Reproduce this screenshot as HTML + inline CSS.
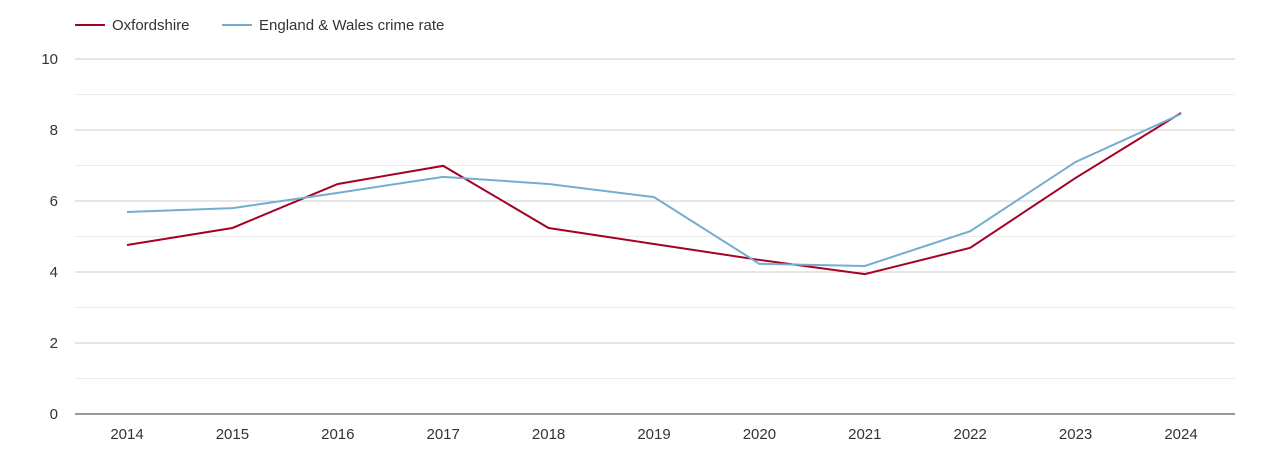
<!DOCTYPE html>
<html><head><meta charset="utf-8"><style>
body{margin:0;background:#fff;font-family:"Liberation Sans",Arial,sans-serif}
svg text{font-family:"Liberation Sans",Arial,sans-serif;fill:#333}
</style></head><body>
<svg id="chart" width="1270" height="450" xmlns="http://www.w3.org/2000/svg">
<g>
<g><line x1="75" y1="25" x2="105" y2="25" stroke="#a50026" stroke-width="2"/><text x="112" y="30" font-size="15">Oxfordshire</text></g>
<g><line x1="222" y1="25" x2="252" y2="25" stroke="#74add1" stroke-width="2"/><text x="259" y="30" font-size="15">England &amp; Wales crime rate</text></g>
</g>
<g id="grid"></g>
<g id="yaxis"></g>
<g id="xaxis"></g>
<g id="series"></g>
</svg>
<script>
const years=[2014,2015,2016,2017,2018,2019,2020,2021,2022,2023,2024];
const oxfordshire=[4.76,5.24,6.48,6.99,5.24,4.79,4.34,3.94,4.68,6.65,8.48];
const englandWales=[5.69,5.8,6.23,6.68,6.48,6.11,4.23,4.17,5.15,7.1,8.45];
const yTicks=[0,2,4,6,8,10];
const yMinor=[1,3,5,7,9];
const NS="http://www.w3.org/2000/svg";
const x=i=>127+i*(1181-127)/(years.length-1);
const y=v=>414-v*35.5;
function mk(tag,attrs,parent,txt){const e=document.createElementNS(NS,tag);for(const k in attrs)e.setAttribute(k,attrs[k]);if(txt!==undefined)e.textContent=txt;parent.appendChild(e);return e;}
const grid=document.getElementById('grid'),ya=document.getElementById('yaxis'),xa=document.getElementById('xaxis'),ser=document.getElementById('series');
yMinor.forEach(v=>{const l=mk('line',{x1:75,x2:1235,y1:y(v),y2:y(v),stroke:'#ebebeb','stroke-width':1},grid);

});
yTicks.forEach(v=>{const l=mk('line',{x1:75,x2:1235,y1:y(v),y2:y(v),stroke:v===0?'#333':'#ccc','stroke-width':1},grid);


const t=mk('text',{x:58,y:y(v)+5,'font-size':15,'text-anchor':'end'},ya,String(v));

});
years.forEach((yr,i)=>{const t=mk('text',{x:x(i),y:439,'font-size':15,'text-anchor':'middle'},xa,String(yr));

});
function line(arr,color,name){const p=mk('polyline',{points:arr.map((v,i)=>x(i)+','+y(v)).join(' '),fill:'none',stroke:color,'stroke-width':2},ser);

}
line(oxfordshire,'#a50026','oxfordshire-line');
line(englandWales,'#74add1','england-wales-line');
</script>
</body></html>
